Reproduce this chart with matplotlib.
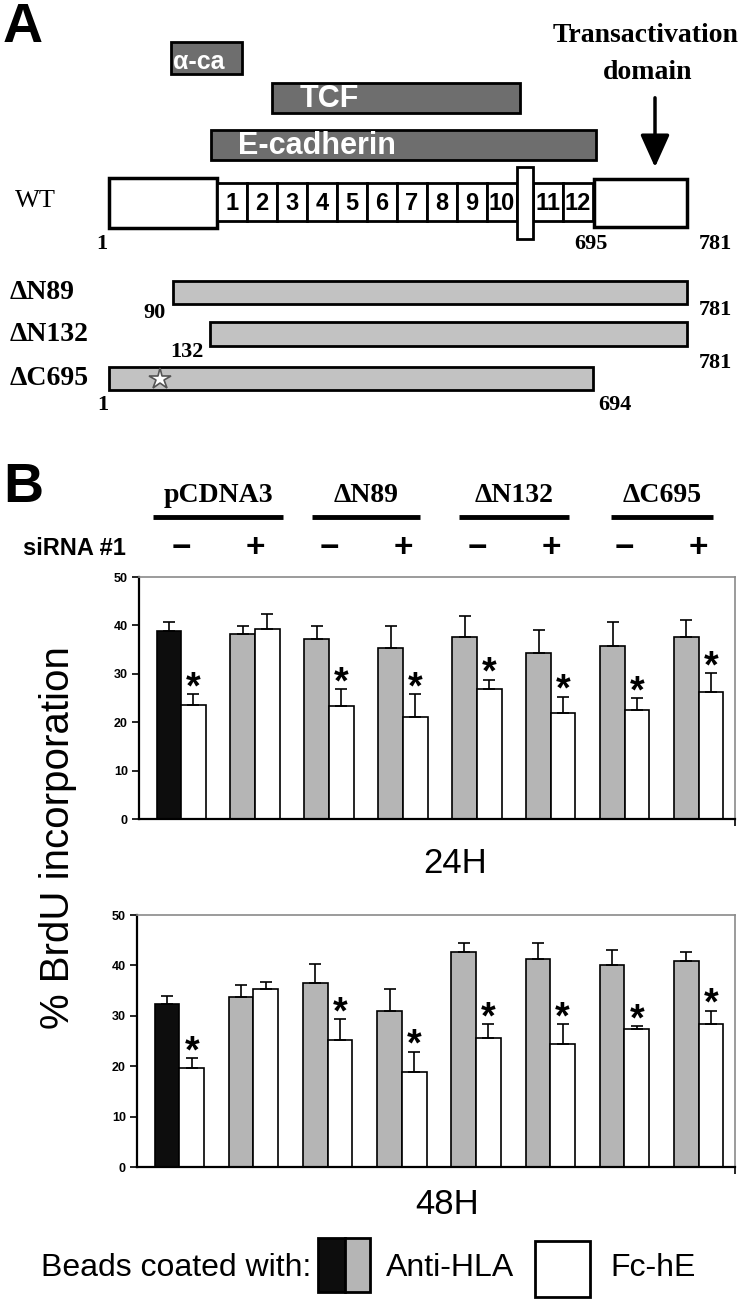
import matplotlib
matplotlib.use('Agg')
import matplotlib.pyplot as plt
from matplotlib.patches import Rectangle
from matplotlib.transforms import blended_transform_factory

# ---------------- data ----------------
# panel A (schematic)
repeat_labels = ['1', '2', '3', '4', '5', '6', '7', '8', '9', '10', '11', '12']
domain_names = ['α-ca', 'TCF', 'E-cadherin']
construct_names = ['ΔN89', 'ΔN132', 'ΔC695']
construct_start = ['90', '132', '1']
construct_end = ['781', '781', '694']
wt_ends = ['1', '695', '781']

# panel B (bars)
groups = ['pCDNA3', 'ΔN89', 'ΔN132', 'ΔC695']
sirna = ['−', '+', '−', '+', '−', '+', '−', '+']
h24_hla = [38.8, 38.2, 37.2, 35.3, 37.7, 34.4, 35.8, 37.7]
h24_hla_err = [1.8, 1.6, 2.6, 4.5, 4.3, 4.7, 4.8, 3.4]
h24_fc = [23.5, 39.2, 23.4, 21.0, 26.8, 22.0, 22.6, 26.3]
h24_fc_err = [2.3, 3.1, 3.4, 4.8, 2.0, 3.3, 2.4, 3.8]
h48_hla = [32.3, 33.8, 36.6, 31.0, 42.6, 41.2, 40.0, 40.8]
h48_hla_err = [1.6, 2.3, 3.7, 4.3, 1.9, 3.3, 3.1, 1.8]
h48_fc = [19.6, 35.3, 25.2, 18.8, 25.6, 24.4, 27.4, 28.4]
h48_fc_err = [2.0, 1.4, 4.1, 4.1, 2.8, 4.0, 0.5, 2.6]
significant = [True, False, True, True, True, True, True, True]
yticks = [0, 10, 20, 30, 40, 50]

SANS = ['Liberation Sans', 'DejaVu Sans']
SERIF = ['Liberation Serif', 'DejaVu Serif']
DARK = '#6e6e6e'
LIGHT = '#c2c2c2'
BARGRAY = '#b5b5b5'

W, H = 750, 1299
fig = plt.figure(figsize=(W / 100, H / 100), dpi=100)

# overlay axes in pixel coordinates for the schematic and labels
ax0 = fig.add_axes([0, 0, 1, 1])
ax0.set_xlim(0, W)
ax0.set_ylim(H, 0)
ax0.axis('off')


def box(x0, y0, x1, y1, fc, lw=2.2, z=2):
    ax0.add_patch(Rectangle((x0, y0), x1 - x0, y1 - y0, facecolor=fc,
                            edgecolor='black', linewidth=lw, zorder=z))


# ---------------- panel A ----------------
ax0.text(3, 2, 'A', fontsize=40, fontweight='bold', family=SANS, ha='left', va='top')

dom_span = [(171, 42, 242, 74), (272, 83, 520, 113), (211, 130, 596, 160)]
dom_text = [(173, 74, 18), (300, 99, 22), (238, 146, 22)]
for name, sp, tx in zip(domain_names, dom_span, dom_text):
    box(*sp, fc=DARK, lw=2)
    va = 'bottom' if name == 'α-ca' else 'center'
    ax0.text(tx[0], tx[1], name, color='white', fontsize=tx[2], fontweight='bold',
             family=SANS, ha='left', va=va, zorder=3)

ax0.text(646, 35, 'Transactivation', fontsize=20, fontweight='bold', family=SERIF,
         ha='center', va='center')
ax0.text(648, 72, 'domain', fontsize=20, fontweight='bold', family=SERIF,
         ha='center', va='center')
ax0.annotate('', xy=(655, 170), xytext=(655, 95),
             arrowprops=dict(arrowstyle='-|>,head_width=0.45,head_length=1.0',
                             lw=2.5, color='black', mutation_scale=20))

# WT
ax0.text(15, 201, 'WT', fontsize=19, family=SERIF, ha='left', va='center')
box(109, 178, 217, 228, 'white', lw=2.5)
box(594, 179, 687, 227, 'white', lw=2.5)
rep_x = [217 + 30 * i for i in range(10)] + [533, 563]
for lab, x in zip(repeat_labels, rep_x):
    box(x, 183, x + 30, 221, 'white', lw=2)
    ax0.text(x + 15, 203, lab, fontsize=17, fontweight='bold', family=SANS,
             ha='center', va='center', zorder=3)
box(517, 167, 533, 239, 'white', lw=2, z=4)
for lab, x in zip(wt_ends, [102, 591, 715]):
    ax0.text(x, 244, lab, fontsize=16, fontweight='bold', family=SERIF,
             ha='center', va='center')

# deletion constructs
con_span = [(173, 281, 687, 304), (210, 322, 687, 346), (109, 367, 593, 390)]
start_pos = [(155, 313), (187, 352), (103, 405)]
end_pos = [(715, 310), (715, 363), (615, 405)]
for name, sp, s, e, sp0, ep0 in zip(construct_names, con_span, construct_start,
                                     construct_end, start_pos, end_pos):
    box(*sp, fc=LIGHT, lw=2)
    ax0.text(10, (sp[1] + sp[3]) / 2, name, fontsize=20, fontweight='bold',
             family=SERIF, ha='left', va='center')
    ax0.text(sp0[0], sp0[1], s, fontsize=16, fontweight='bold', family=SERIF,
             ha='center', va='center')
    ax0.text(ep0[0], ep0[1], e, fontsize=16, fontweight='bold', family=SERIF,
             ha='center', va='center')
ax0.plot([160], [379], marker='*', markersize=16, markerfacecolor='white',
         markeredgecolor='#555555', markeredgewidth=1.2, zorder=5)

# ---------------- panel B ----------------
ax0.text(3, 462, 'B', fontsize=40, fontweight='bold', family=SANS, ha='left', va='top')

xl = (-0.57, 7.49)
ax_top = fig.add_axes([139 / W, 1 - 819 / H, 596 / W, 242 / H])
ax_bot = fig.add_axes([137 / W, 1 - 1167 / H, 598 / W, 252 / H])

bw = 0.333
for ax, hla, hla_e, fc, fc_e in [(ax_top, h24_hla, h24_hla_err, h24_fc, h24_fc_err),
                                 (ax_bot, h48_hla, h48_hla_err, h48_fc, h48_fc_err)]:
    ax.set_facecolor('none')
    x = list(range(len(hla)))
    xa = [i - bw / 2 for i in x]
    xb = [i + bw / 2 for i in x]
    colors = ['#0d0d0d'] + [BARGRAY] * (len(hla) - 1)
    ax.bar(xa, hla, width=bw, color=colors, edgecolor='black', linewidth=1.2, zorder=2)
    ax.bar(xb, fc, width=bw, color='white', edgecolor='black', linewidth=1.2, zorder=2)
    ax.errorbar(xa, hla, yerr=[[0] * len(hla), hla_e], fmt='none', ecolor='black',
                elinewidth=1.2, capsize=4, capthick=1.2, zorder=3)
    ax.errorbar(xb, fc, yerr=[[0] * len(fc), fc_e], fmt='none', ecolor='black',
                elinewidth=1.2, capsize=4, capthick=1.2, zorder=3)
    for xi, v, e, s in zip(xb, fc, fc_e, significant):
        if s:
            ax.annotate('*', xy=(xi, v + e), xytext=(0, -3), textcoords='offset points',
                        fontsize=27, fontweight='bold', family=SANS,
                        ha='center', va='baseline')
    ax.set_xlim(*xl)
    ax.set_ylim(0, 50)
    ax.set_yticks(yticks)
    ax.set_yticklabels([str(t) for t in yticks], fontsize=9, fontweight='bold',
                       family=SANS)
    ax.set_xticks([xl[1]])
    ax.set_xticklabels([])
    ax.tick_params(axis='y', direction='out', length=5, width=1.2, pad=3)
    ax.tick_params(axis='x', direction='out', length=5, width=1.2)
    for sname in ['top', 'right']:
        ax.spines[sname].set_color('#8a8a8a')
        ax.spines[sname].set_linewidth(1.2)
    for sname in ['left', 'bottom']:
        ax.spines[sname].set_color('black')
        ax.spines[sname].set_linewidth(1.6)

# group headers and siRNA signs (x from bar axis, y in pixels)
tr = blended_transform_factory(ax_top.transData, ax0.transData)
half_w = [0.88, 0.73, 0.74, 0.69]
for g, name in enumerate(groups):
    c = 2 * g + 0.5
    ax0.text(c, 495, name, fontsize=20, fontweight='bold', family=SERIF,
             ha='center', va='center', transform=tr)
    ax0.plot([c - half_w[g], c + half_w[g]], [517, 517], color='black', lw=3.5,
             transform=tr, solid_capstyle='butt')
ax0.text(23, 548, 'siRNA #1', fontsize=17, fontweight='bold', family=SANS,
         ha='left', va='center')
for i, s in enumerate(sirna):
    ax0.text(i, 548, s, fontsize=24, fontweight='bold', family=SANS,
             ha='center', va='center', transform=tr)

ax0.text(58, 838, '% BrdU incorporation', fontsize=29, family=SANS, rotation=90,
         ha='center', va='center')
ax0.text(455, 863, '24H', fontsize=25, family=SANS, ha='center', va='center')
ax0.text(447, 1205, '48H', fontsize=25, family=SANS, ha='center', va='center')

# legend
ax0.text(41, 1268, 'Beads coated with:', fontsize=23, family=SANS,
         ha='left', va='center')
box(318, 1238, 345, 1292, '#0d0d0d', lw=2)
box(345, 1238, 370, 1292, BARGRAY, lw=2)
ax0.text(386, 1268, 'Anti-HLA', fontsize=23, family=SANS, ha='left', va='center')
box(535, 1241, 590, 1297, 'white', lw=2)
ax0.text(610, 1268, 'Fc-hE', fontsize=23, family=SANS, ha='left', va='center')

fig.savefig('out.png', dpi=100)
